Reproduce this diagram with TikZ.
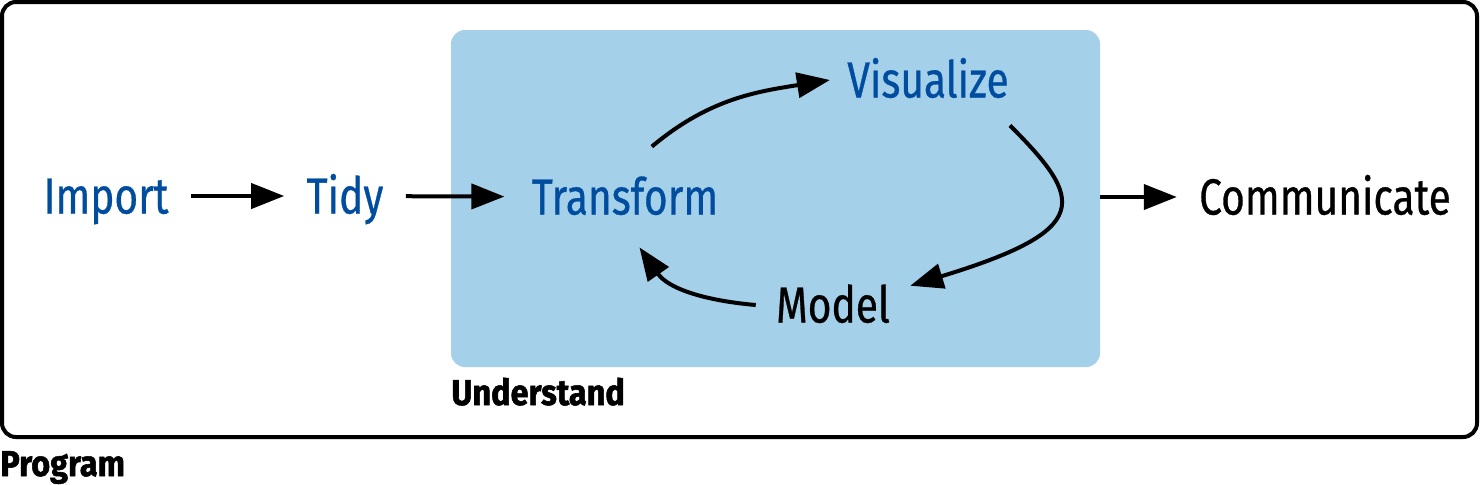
\documentclass[tikz,border=0pt]{standalone}
\usepackage{fontspec}
\usetikzlibrary{arrows.meta}
\newfontfamily\stagefont{Fira Sans}[FakeStretch=0.8, FakeBold=0.6]
\newfontfamily\groupfont{Fira Sans}[FakeStretch=0.9, FakeBold=1.5]
\definecolor{stageblue}{HTML}{004DA0}
\definecolor{understandfill}{HTML}{A4D0EA}

\begin{document}
\begin{tikzpicture}[x=0.5pt,y=-0.5pt,
        stage/.style={font=\stagefont\fontsize{25.4}{30}\selectfont,
            inner xsep=11pt, inner ysep=0pt, text height=17.5pt, text depth=0pt},
        blue/.style={text=stageblue},
        group/.style={font=\groupfont\bfseries\fontsize{18}{22}\selectfont,
            inner sep=0pt, anchor=base west},
        arr/.style={-{Triangle[length=16.5pt,width=12.5pt]}, line width=2pt}]
\useasboundingbox (0,0) rectangle (1481,484);

% boxes
\node[draw, line width=2pt, rounded corners=7pt, outer sep=0pt,
    minimum width=737.5pt, minimum height=217.5pt] (program) at (739.5,219.5) {};
\node[fill=understandfill, rounded corners=7pt, outer sep=0pt,
    minimum width=324.5pt, minimum height=168.5pt] (under) at (775.5,198.5) {};
\node[group, yshift=-19pt] (understand) at (under.south west) {Understand};
\node[group, yshift=-19.5pt] (prog) at (program.south west -| 0,0) {Program};

% stages
\node[stage, blue] (imp) at (106,196) {Import};
\node[stage, blue] (tidy) at (345,196) {Tidy};
\node[stage, blue, inner xsep=13.5pt, inner ysep=16.25pt] (trans) at (625,197) {Transform};
\node[stage, blue, inner xsep=8.5pt, inner ysep=13.75pt] (vis) at (928,80) {Visualize};
\node[stage, inner xsep=10pt, inner ysep=2pt] (model) at (833,305) {Model};
\node[stage] (comm) at (1325,197) {Communicate};

\draw[arr] (imp) -- (tidy);
\draw[arr] (tidy) -- (trans);
\draw[arr] (trans.62) to[out=40,in=189] (vis.west);
\draw[arr] (vis.-29) .. controls +(74,74) and +(184,-56) .. (model.14);
\draw[arr] (model.west) to[out=175,in=-55] (trans.-74);
\draw[arr] (under.east |- comm.west) -- (comm.west);

\end{tikzpicture}
\end{document}
